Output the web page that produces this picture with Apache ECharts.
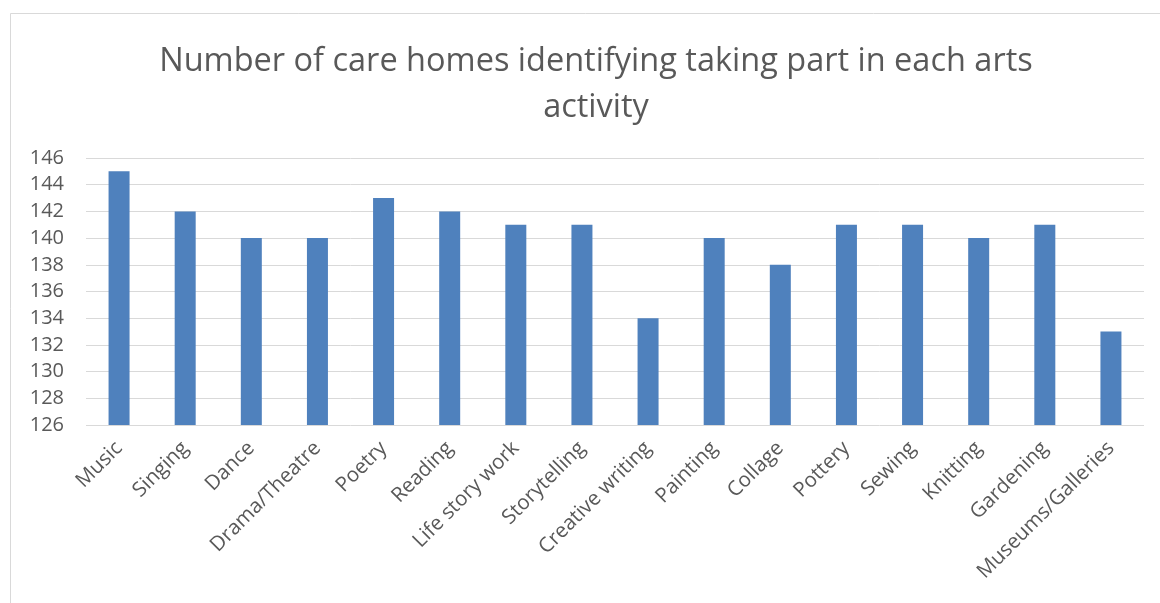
<!DOCTYPE html>
<html>
<head>
<meta charset="utf-8">
<script src="https://cdn.jsdelivr.net/npm/echarts@6/dist/echarts.min.js"></script>
<style>
  html, body { margin: 0; padding: 0; background: #fff; }
  #chart { width: 1160px; height: 603px; }
</style>
</head>
<body>
<div id="chart"></div>
<script>
// activities and counts
var activities = ['Music', 'Singing', 'Dance', 'Drama/Theatre', 'Poetry', 'Reading',
  'Life story work', 'Storytelling', 'Creative writing', 'Painting', 'Collage',
  'Pottery', 'Sewing', 'Knitting', 'Gardening', 'Museums/Galleries'];
var homes = [145, 142, 140, 140, 143, 142, 141, 141, 134, 140, 138, 141, 141, 140, 141, 133];
var yMin = 126, yMax = 146, yStep = 2;

var chart = echarts.init(document.getElementById('chart'));
var font = '"Open Sans", Calibri, sans-serif';

chart.setOption({
  animation: false,
  backgroundColor: '#fff',
  graphic: [{
    type: 'rect',
    shape: { x: 10.5, y: 13.5, width: 1200, height: 620 },
    style: { fill: 'none', stroke: '#d9d9d9', lineWidth: 1 },
    silent: true
  }],
  title: {
    text: 'Number of care homes identifying taking part in each arts\nactivity',
    left: 591,
    top: 34,
    textAlign: 'center',
    textStyle: {
      fontFamily: font,
      fontSize: 32.5,
      fontWeight: 'normal',
      color: '#595959',
      lineHeight: 46
    }
  },
  grid: { left: 86, right: 16, top: 158, bottom: 178 },
  xAxis: {
    type: 'category',
    data: activities,
    axisLine: { show: false },
    axisTick: { show: false },
    axisLabel: {
      rotate: 45,
      interval: 0,
      margin: 20,
      fontFamily: font,
      fontSize: 20.5,
      color: '#595959'
    }
  },
  yAxis: {
    type: 'value',
    min: yMin,
    max: yMax,
    interval: yStep,
    axisLine: { show: false },
    axisTick: { show: false },
    axisLabel: { margin: 22, fontFamily: font, fontSize: 20, color: '#595959' },
    splitLine: { lineStyle: { color: '#d9d9d9', width: 1 } }
  },
  series: [{
    type: 'bar',
    data: homes,
    barWidth: 21,
    itemStyle: { color: '#4f81bd' }
  }]
});
</script>
</body>
</html>
